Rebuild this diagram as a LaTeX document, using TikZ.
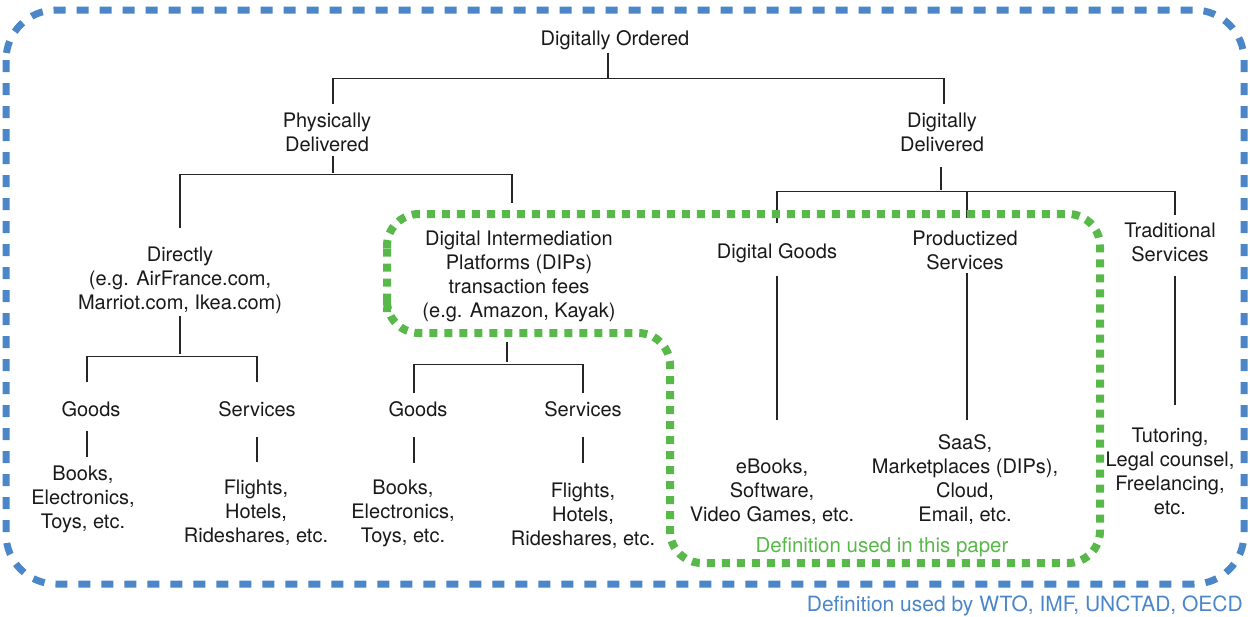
\documentclass[tikz,border=0pt]{standalone}
\usepackage{fontspec}
\setmainfont{TeX Gyre Heros}
\definecolor{bl}{RGB}{74,134,200}
\definecolor{gr}{RGB}{88,184,74}
\begin{document}
\begin{tikzpicture}[x=1pt,y=-1pt,
  lbl/.style={align=center, inner sep=0pt, anchor=north, text=black!90,
    font=\fontsize{20}{24}\selectfont,
    execute at begin node=\strut, execute at end node=\strut},
  conn/.style={line width=1.3pt, black!85},
  bluebox/.style={draw=bl, line width=7pt, dash pattern=on 12pt off 11pt, rounded corners=50pt},
  greenbox/.style={draw=gr, line width=8pt, dash pattern=on 8pt off 7pt, rounded corners=32pt}]
\useasboundingbox (0,0) rectangle (1250,616);

% boundaries
\draw[bluebox] (6,10) rectangle (1244,584);

% nodes
\node[lbl] (root) at (615,28.2) {Digitally Ordered};
\node[lbl] (pd) at (327,113.2) {Physically\\Delivered};
\node[lbl] (dd) at (942,113.2) {Digitally\\Delivered};
\node[lbl] (dir) at (180,247.2) {Directly\\(e.g. AirFrance.com,\\Marriot.com, Ikea.com)};
\node[lbl] (dip) at (519,231.2) {Digital Intermediation\\Platforms (DIPs)\\transaction fees\\(e.g. Amazon, Kayak)};
\node[lbl] (dg) at (777,241.2) {Digital Goods};
\node[lbl] (ps) at (965,231.2) {Productized\\Services};
\node[lbl] (ts) at (1170,223.2) {Traditional\\Services};
\node[lbl] (g1) at (91,399.2) {Goods};
\node[lbl] (s1) at (257,399.2) {Services};
\node[lbl] (g2) at (418,399.2) {Goods};
\node[lbl] (s2) at (583,399.2) {Services};
\node[lbl] (e1) at (83,466.2) {Books,\\Electronics,\\Toys, etc.};
\node[lbl] (e2) at (256,480.2) {Flights,\\Hotels,\\Rideshares, etc.};
\node[lbl] (e3) at (403,480.2) {Books,\\Electronics,\\Toys, etc.};
\node[lbl] (e4) at (583,483.2) {Flights,\\Hotels,\\Rideshares, etc.};
\node[lbl] (e5) at (772,459.2) {eBooks,\\Software,\\Video Games, etc.};
\node[lbl] (e6) at (965,434.2) {SaaS,\\Marketplaces (DIPs),\\Cloud,\\Email, etc.};
\node[lbl] (e7) at (1170,428.2) {Tutoring,\\Legal counsel,\\Freelancing,\\etc.};

\node[inner sep=0pt, font=\fontsize{20.5}{24}\selectfont, text=gr, anchor=base] (gnote) at (882,552) {Definition used in this paper};
\node[inner sep=0pt, font=\fontsize{21}{25}\selectfont, text=bl, anchor=base east] (bnote) at (1243,611) {Definition used by WTO, IMF, UNCTAD, OECD};

% connectors
\draw[conn] ([xshift=-7pt]root.south) -- ++(0,26);
\draw[conn] ([xshift=6pt,yshift=9pt]pd.north) -- ++(0,-26) -| ([xshift=2pt,yshift=9pt]dd.north);

\draw[conn] ([xshift=6pt,yshift=3pt]pd.south) -- ++(0,17);
\draw[conn] ([yshift=19pt]dir.north) -- ++(0,-54) -| ([xshift=-7pt,yshift=28pt]dip.north);

\draw[conn] ([xshift=-1pt,yshift=-8pt]dd.south) -- ++(0,23);
\draw[conn] ([yshift=18pt]dg.north) -- ++(0,-32) -| ([xshift=5pt,yshift=8pt]ts.north);
\draw[conn] ([xshift=2pt,yshift=13pt]ps.north) -- ++(0,-27);

\draw[conn] ([yshift=1pt]dir.south) -- ++(0,38);
\draw[conn] ([xshift=-4pt,yshift=17pt]g1.north) -- ++(0,-26) -| ([yshift=17pt]s1.north);

\draw[conn] ([xshift=-12pt,yshift=-17pt]dip.south) -- ++(0,20);
\draw[conn] ([xshift=-4pt,yshift=6pt]g2.north) -- ++(0,-29) -| ([yshift=6pt]s2.north);

\draw[conn] ([xshift=-4pt,yshift=-7pt]g1.south) -- ([xshift=4pt,yshift=9pt]e1.north);
\draw[conn] ([yshift=-13pt]s1.south) -- ([xshift=1pt,yshift=18pt]e2.north);
\draw[conn] ([xshift=-4pt,yshift=-13pt]g2.south) -- ([xshift=11pt,yshift=17pt]e3.north);
\draw[conn] ([yshift=-13pt]s2.south) -- ([yshift=20pt]e4.north);

\draw[conn] ([yshift=-10pt]dg.south) -- ([xshift=5pt,yshift=39pt]e5.north);
\draw[conn] ([xshift=2pt,yshift=4pt]ps.south) -- ([xshift=2pt,yshift=14pt]e6.north);
\draw[conn] ([xshift=5pt,yshift=-7pt]ts.south) -- ([xshift=5pt,yshift=23pt]e7.north);

% green boundary drawn over the tree lines
\draw[greenbox] (387,280) -- (387,214) -- (1100,214) -- (1100,563) -- (670,563) -- (670,333) -- (387,333) -- cycle;
\end{tikzpicture}
\end{document}
